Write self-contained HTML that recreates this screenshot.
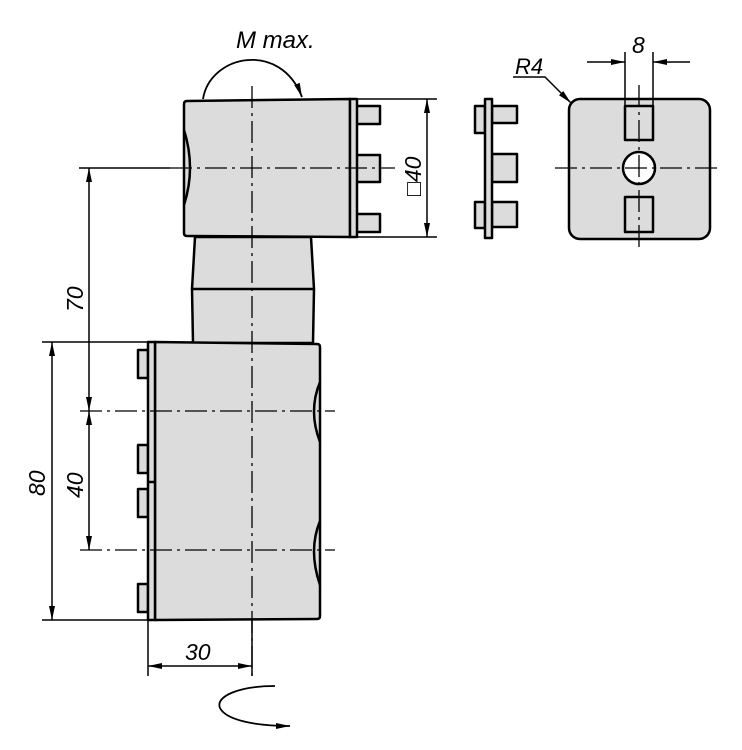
<!DOCTYPE html>
<html><head><meta charset="utf-8"><style>
html,body{margin:0;padding:0;background:#fff}
svg{display:block}
text{font-family:"Liberation Sans",sans-serif;font-style:italic;fill:#000}
</style></head><body>
<svg width="742" height="750" viewBox="0 0 742 750" xmlns="http://www.w3.org/2000/svg">
<defs>
<marker id="a" markerWidth="14" markerHeight="8" refX="14" refY="4" orient="auto-start-reverse" markerUnits="userSpaceOnUse"><path d="M0,1 L14,4 L0,7 Z" fill="#000"/></marker>
</defs>
<g stroke="#000" stroke-width="2.5" fill="#dcdcdc" stroke-linejoin="round">
<rect x="356" y="106" width="24" height="18"/>
<rect x="356" y="155" width="24" height="27"/>
<rect x="356" y="214" width="24" height="18"/>
<path d="M187,101 L350,99 L350,237 L187,236 Q184,236 184,233 L184,104 Q184,101 187,101 Z"/>
<rect x="350" y="99" width="7" height="138"/>
<path d="M184,130 Q196,168 184,205" fill="none"/>
<path d="M195,237 L311,237 L314,289 L313,343 L193,343 L192,289 Z"/>
<line x1="192" y1="289" x2="314" y2="289"/>
<rect x="138" y="350" width="10" height="28"/>
<rect x="138" y="445" width="10" height="28"/>
<rect x="138" y="489" width="10" height="28"/>
<rect x="138" y="584" width="10" height="28"/>
<path d="M155,342 L317,344 Q320,344 320,347 L320,616 Q320,619 317,619 L155,620 Z"/>
<rect x="148" y="342" width="7" height="278"/>
<line x1="148" y1="482" x2="155" y2="482"/>
<path d="M320,382 Q308,411 320,442" fill="none"/>
<path d="M320,521 Q308,550 320,585" fill="none"/>
<rect x="475" y="106" width="10" height="27"/>
<rect x="475" y="202" width="10" height="26"/>
<rect x="492" y="106" width="25" height="17"/>
<rect x="492" y="154" width="25" height="28"/>
<rect x="492" y="202" width="25" height="25"/>
<rect x="485" y="99" width="7" height="139"/>
<rect x="569" y="99" width="141" height="140" rx="11"/>
<rect x="625" y="106" width="28" height="34"/>
<rect x="625" y="197" width="28" height="35"/>
<circle cx="639" cy="168" r="16" fill="#fff"/>
</g>
<g stroke="#000" stroke-width="1.3" stroke-dasharray="22,5,3,5" fill="none">
<line x1="252" y1="86" x2="252" y2="680"/>
<line x1="170" y1="168" x2="395" y2="168"/>
<line x1="80" y1="411" x2="335" y2="411"/>
<line x1="80" y1="550" x2="335" y2="550"/>
<line x1="639" y1="85" x2="639" y2="250"/>
<line x1="555" y1="168" x2="722" y2="168"/>
</g>
<g stroke="#000" stroke-width="1.5" fill="none">
<line x1="79" y1="168" x2="170" y2="168"/>
<line x1="357" y1="99" x2="437" y2="99"/>
<line x1="357" y1="237" x2="437" y2="237"/>
<line x1="427" y1="99" x2="427" y2="237" marker-start="url(#a)" marker-end="url(#a)"/>
<line x1="89" y1="168" x2="89" y2="411" marker-start="url(#a)" marker-end="url(#a)"/>
<line x1="89" y1="411" x2="89" y2="550" marker-start="url(#a)" marker-end="url(#a)"/>
<line x1="42" y1="342" x2="148" y2="342"/>
<line x1="42" y1="620" x2="148" y2="620"/>
<line x1="52" y1="342" x2="52" y2="620" marker-start="url(#a)" marker-end="url(#a)"/>
<line x1="148" y1="620" x2="148" y2="676"/>
<line x1="252" y1="620" x2="252" y2="676"/>
<line x1="148" y1="666" x2="252" y2="666" marker-start="url(#a)" marker-end="url(#a)"/>
<line x1="625" y1="52" x2="625" y2="106"/>
<line x1="653" y1="52" x2="653" y2="106"/>
<line x1="587" y1="62" x2="625" y2="62" marker-end="url(#a)"/>
<line x1="690" y1="62" x2="653" y2="62" marker-end="url(#a)"/>
<path d="M513,77 L545,77 L571,103" marker-end="url(#a)"/>
</g>
<g stroke="#000" stroke-width="1.8" fill="none">
<path d="M203,99 C210,55 280,40 302,97" marker-end="url(#a)"/>
<path d="M275,686 C240,686 215,696 220,708 C226,720 255,726 290,726" marker-end="url(#a)"/>
</g>
<text x="236" y="48" font-size="24">M max.</text>
<text x="515" y="74" font-size="22">R4</text>
<text x="632" y="53" font-size="23">8</text>
<text x="185" y="660" font-size="23">30</text>
<text transform="translate(83,312) rotate(-90)" font-size="23">70</text>
<text transform="translate(83,498) rotate(-90)" font-size="23">40</text>
<text transform="translate(45,496) rotate(-90)" font-size="23">80</text>
<text transform="translate(421,196) rotate(-90)" font-size="23">□40</text>
</svg>
</body></html>
